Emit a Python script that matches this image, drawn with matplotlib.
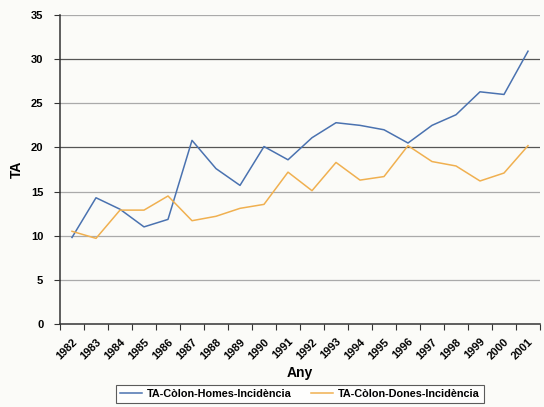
import matplotlib
matplotlib.use('Agg')
import matplotlib.pyplot as plt
import numpy as np

years = ['1982', '1983', '1984', '1985', '1986', '1987', '1988', '1989', '1990', '1991',
         '1992', '1993', '1994', '1995', '1996', '1997', '1998', '1999', '2000', '2001']

homes = [9.8, 14.3, 13.0, 11.0, 11.85, 20.8, 17.6, 15.7, 20.1, 18.6,
         21.1, 22.8, 22.5, 22.0, 20.5, 22.5, 23.7, 26.3, 26.0, 30.9]
dones = [10.5, 9.7, 12.9, 12.9, 14.5, 11.7, 12.2, 13.1, 13.55, 17.2,
         15.1, 18.3, 16.3, 16.7, 20.2, 18.4, 17.9, 16.2, 17.1, 20.2]

plt.rcParams['font.family'] = ['Liberation Sans', 'DejaVu Sans']
plt.rcParams['font.weight'] = 'bold'

bg = '#fbfbf8'
fig = plt.figure(figsize=(5.44, 4.07), dpi=100, facecolor=bg)
ax = fig.add_axes([60 / 544, 1 - 324 / 407, 480 / 544, 309 / 407], facecolor=bg)

x = np.arange(len(years))
ax.plot(x, homes, color='#4a72b0', lw=1.1, label='TA-Còlon-Homes-Incidència')
ax.plot(x, dones, color='#f0b050', lw=1.1, label='TA-Còlon-Dones-Incidència')

ax.set_xlim(-0.5, len(years) - 0.5)
ax.set_ylim(0, 35)
ax.set_yticks(range(0, 36, 5))

# gridlines: 20 and 30 slightly darker
for v in range(5, 36, 5):
    c = '#555555' if v in (20, 30) else '#aaaaaa'
    ax.axhline(v, color=c, lw=0.9, zorder=0)

# category ticks at boundaries, labels at centers
ax.set_xticks(np.arange(-0.5, len(years)), minor=False)
ax.set_xticklabels([])
ax.set_xticks(x, minor=True)
ax.set_xticklabels(years, minor=True, rotation=45, ha='right', va='top',
                   rotation_mode='anchor', fontsize=8, fontweight='bold')
ax.tick_params(axis='x', which='minor', length=0, pad=9)
ax.tick_params(axis='x', which='major', length=4, direction='out', color='#333333')
ax.tick_params(axis='y', length=4, direction='out', labelsize=8, pad=8, color='#333333')

for s in ['top', 'right']:
    ax.spines[s].set_visible(False)
for s in ['left', 'bottom']:
    ax.spines[s].set_color('#333333')
    ax.spines[s].set_linewidth(1.1)

ax.set_ylabel('TA', fontsize=10, fontweight='bold', labelpad=5)
ax.set_xlabel('Any', fontsize=10, fontweight='bold', labelpad=0)
ax.xaxis.set_label_coords(0.5, -0.135)

leg = ax.legend(loc='upper center', bbox_to_anchor=(0.5, -0.18), ncol=2,
                fontsize=7.8, frameon=True, fancybox=False, handlelength=2.0,
                borderpad=0.35, columnspacing=1.8, handletextpad=0.5)
leg.get_frame().set_edgecolor('#333333')
leg.get_frame().set_facecolor('white')
leg.get_frame().set_linewidth(0.8)

fig.savefig('out.png', dpi=100, facecolor=bg)
